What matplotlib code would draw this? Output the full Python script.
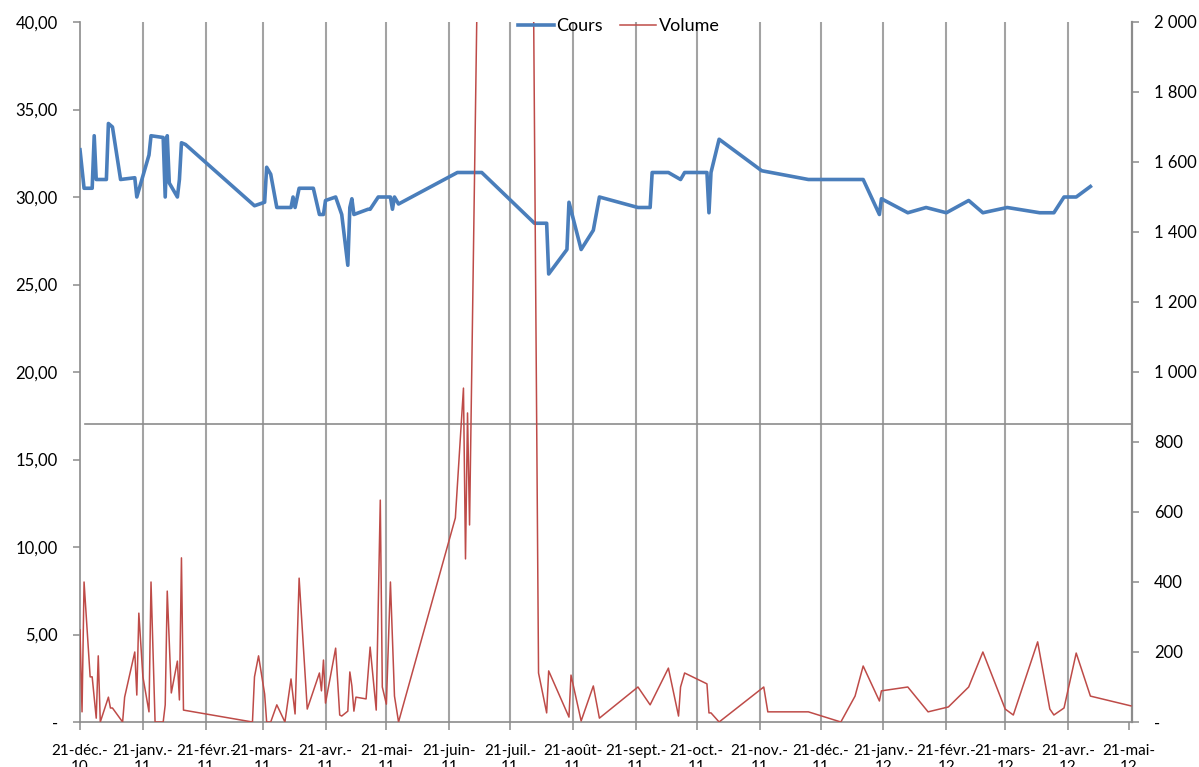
import pandas as pd
import matplotlib
matplotlib.use("Agg")
import matplotlib.pyplot as plt
from matplotlib.ticker import FixedLocator, FuncFormatter

plt.rcParams['font.family'] = ['Lato', 'DejaVu Sans']

# %% data

cours_dates = [
    '2010-12-21', '2010-12-23', '2010-12-27', '2010-12-28', '2010-12-29',
    '2011-01-03', '2011-01-04', '2011-01-06', '2011-01-10', '2011-01-17',
    '2011-01-18', '2011-01-24', '2011-01-25', '2011-01-31', '2011-02-01',
    '2011-02-02', '2011-02-03', '2011-02-07', '2011-02-08', '2011-02-09',
    '2011-02-11', '2011-03-17', '2011-03-22', '2011-03-23', '2011-03-25',
    '2011-03-28', '2011-04-04', '2011-04-05', '2011-04-06', '2011-04-08',
    '2011-04-15', '2011-04-18', '2011-04-20', '2011-04-21', '2011-04-26',
    '2011-04-29', '2011-05-02', '2011-05-03', '2011-05-04', '2011-05-05',
    '2011-05-12', '2011-05-13', '2011-05-17', '2011-05-23', '2011-05-24',
    '2011-05-25', '2011-05-27', '2011-06-25', '2011-07-07', '2011-08-02',
    '2011-08-08', '2011-08-09', '2011-08-18', '2011-08-19', '2011-08-25',
    '2011-08-31', '2011-09-03', '2011-09-22', '2011-09-28', '2011-09-29',
    '2011-10-07', '2011-10-13', '2011-10-15', '2011-10-26', '2011-10-27',
    '2011-10-28', '2011-11-01', '2011-11-22', '2011-12-15', '2012-01-11',
    '2012-01-19', '2012-01-20', '2012-02-02', '2012-02-11', '2012-02-21',
    '2012-03-03', '2012-03-10', '2012-03-22', '2012-04-07', '2012-04-14',
    '2012-04-19', '2012-04-25', '2012-05-02',
]
cours = [
    32.7, 30.5, 30.5, 33.5, 31.0,
    31.0, 34.2, 34.0, 31.0, 31.1,
    30.0, 32.4, 33.5, 33.4, 30.0,
    33.5, 30.8, 30.0, 31.0, 33.1,
    33.0, 29.5, 29.7, 31.7, 31.3,
    29.4, 29.4, 30.0, 29.4, 30.5,
    30.5, 29.0, 29.0, 29.8, 30.0,
    29.0, 26.1, 29.4, 29.9, 29.0,
    29.3, 29.3, 30.0, 30.0, 29.3,
    30.0, 29.6, 31.4, 31.4, 28.5,
    28.5, 25.6, 27.0, 29.7, 27.0,
    28.1, 30.0, 29.4, 29.4, 31.4,
    31.4, 31.0, 31.4, 31.4, 29.1,
    31.4, 33.3, 31.5, 31.0, 31.0,
    29.0, 29.9, 29.1, 29.4, 29.1,
    29.8, 29.1, 29.4, 29.1, 29.1,
    30.0, 30.0, 30.6,
]

volume_dates = [
    '2010-12-21', '2010-12-22', '2010-12-23', '2010-12-26', '2010-12-27',
    '2010-12-29', '2010-12-30', '2010-12-31', '2011-01-04', '2011-01-05',
    '2011-01-06', '2011-01-11', '2011-01-12', '2011-01-17', '2011-01-18',
    '2011-01-19', '2011-01-21', '2011-01-24', '2011-01-25', '2011-01-27',
    '2011-01-31', '2011-02-01', '2011-02-02', '2011-02-04', '2011-02-07',
    '2011-02-08', '2011-02-09', '2011-02-10', '2011-03-16', '2011-03-17',
    '2011-03-19', '2011-03-22', '2011-03-23', '2011-03-25', '2011-03-28',
    '2011-04-01', '2011-04-04', '2011-04-06', '2011-04-08', '2011-04-12',
    '2011-04-18', '2011-04-19', '2011-04-20', '2011-04-21', '2011-04-26',
    '2011-04-28', '2011-04-29', '2011-05-02', '2011-05-03', '2011-05-04',
    '2011-05-05', '2011-05-06', '2011-05-11', '2011-05-13', '2011-05-16',
    '2011-05-18', '2011-05-19', '2011-05-21', '2011-05-23', '2011-05-25',
    '2011-05-27', '2011-06-24', '2011-06-28', '2011-06-29', '2011-06-30',
    '2011-07-01', '2011-07-23', '2011-08-04', '2011-08-08', '2011-08-09',
    '2011-08-19', '2011-08-20', '2011-08-25', '2011-08-31', '2011-09-03',
    '2011-09-22', '2011-09-28', '2011-10-07', '2011-10-12', '2011-10-13',
    '2011-10-15', '2011-10-26', '2011-10-27', '2011-10-28', '2011-11-01',
    '2011-11-23', '2011-11-25', '2011-12-15', '2011-12-31', '2012-01-07',
    '2012-01-11', '2012-01-19', '2012-01-20', '2012-02-02', '2012-02-12',
    '2012-02-22', '2012-03-03', '2012-03-10', '2012-03-21', '2012-03-25',
    '2012-04-06', '2012-04-12', '2012-04-14', '2012-04-19', '2012-04-25',
    '2012-05-02', '2012-05-22',
]
volume = [
    263, 29, 400, 129, 129,
    11, 189, 0, 71, 40,
    40, 0, 71, 200, 77,
    311, 129, 29, 400, 0,
    0, 49, 374, 83, 174,
    63, 469, 34, 0, 129,
    189, 80, 0, 0, 49,
    0, 123, 23, 411, 37,
    140, 89, 177, 54, 211,
    20, 17, 31, 143, 103,
    31, 71, 66, 214, 34,
    634, 100, 51, 400, 74,
    0, 583, 954, 466, 883,
    563, 9500, 140, 26, 146,
    14, 134, 3, 103, 11,
    100, 49, 154, 17, 100,
    140, 109, 26, 26, 0,
    100, 29, 29, 0, 74,
    160, 60, 89, 100, 29,
    43, 100, 200, 37, 20,
    229, 37, 20, 40, 197,
    74, 46,
]

tick_dates = [
    '2010-12-21', '2011-01-21', '2011-02-21', '2011-03-21', '2011-04-21',
    '2011-05-21', '2011-06-21', '2011-07-21', '2011-08-21', '2011-09-21',
    '2011-10-21', '2011-11-21', '2011-12-21', '2012-01-21', '2012-02-21',
    '2012-03-21', '2012-04-21', '2012-05-21',
]
tick_labels = [
    '21-déc.-\n10', '21-janv.-\n11', '21-févr.-\n11', '21-mars-\n11',
    '21-avr.-\n11', '21-mai-\n11', '21-juin-\n11', '21-juil.-\n11',
    '21-août-\n11', '21-sept.-\n11', '21-oct.-\n11', '21-nov.-\n11',
    '21-déc.-\n11', '21-janv.-\n12', '21-févr.-\n12', '21-mars-\n12',
    '21-avr.-\n12', '21-mai-\n12',
]

# %% figure

blue = '#4a7ebb'
red = '#be4b48'
grey = '#a3a3a3'
axis_grey = '#8c8c8c'

fig = plt.figure(figsize=(11.99, 7.67), dpi=100)
ax = fig.add_axes([80/1199, 45/767, 1052/1199, 700/767])
ax2 = ax.twinx()

line_c, = ax.plot(pd.to_datetime(cours_dates), cours, color=blue, lw=2.6,
                  solid_joinstyle='round', label='Cours', zorder=3)
line_v, = ax2.plot(pd.to_datetime(volume_dates), volume, color=red, lw=1.1,
                   label='Volume', zorder=3)

ticks = pd.to_datetime(tick_dates)
ax.set_xlim(pd.Timestamp('2010-12-21'), pd.Timestamp('2012-05-22 12:00'))
ax.set_xticks(ticks)
ax.set_xticklabels(tick_labels)
# vertical gridlines, the first and last coincide with the axes
for t in ticks[1:-1]:
    ax.axvline(t, color=grey, lw=1.5, zorder=1)

ax.set_ylim(0, 40)
ax.yaxis.set_major_locator(FixedLocator(range(0, 41, 5)))
ax.yaxis.set_major_formatter(FuncFormatter(
    lambda v, p: '-' if v == 0 else f'{v:.2f}'.replace('.', ',')))

ax2.set_ylim(0, 2000)
ax2.yaxis.set_major_locator(FixedLocator(range(0, 2001, 200)))
ax2.yaxis.set_major_formatter(FuncFormatter(
    lambda v, p: '-' if v == 0 else f'{int(v):,}'.replace(',', ' ')))
ax2.axhline(851, xmin=5/1052, color=axis_grey, lw=1.2, zorder=1)

for a in (ax, ax2):
    a.spines['top'].set_visible(False)
    for s in ('left', 'right', 'bottom'):
        a.spines[s].set_color(axis_grey)
        a.spines[s].set_linewidth(1.2)
    a.tick_params(colors=axis_grey, labelcolor='black', labelsize=12,
                  length=5, width=1.1)
ax.tick_params(axis='x', length=6, pad=10, labelsize=11)
ax.tick_params(axis='y', pad=11)
ax2.tick_params(axis='y', pad=11)
ax2.spines['right'].set_linewidth(1.6)
ax.spines['right'].set_visible(False)
ax2.spines['left'].set_visible(False)
ax2.spines['bottom'].set_visible(False)

fig.legend(handles=[line_c, line_v], loc='center', ncol=2,
           bbox_to_anchor=(0.516, 0.966), frameon=False, fontsize=13,
           handlelength=2.0, handletextpad=0.15, columnspacing=0.95)

fig.savefig('out.png', dpi=100)
